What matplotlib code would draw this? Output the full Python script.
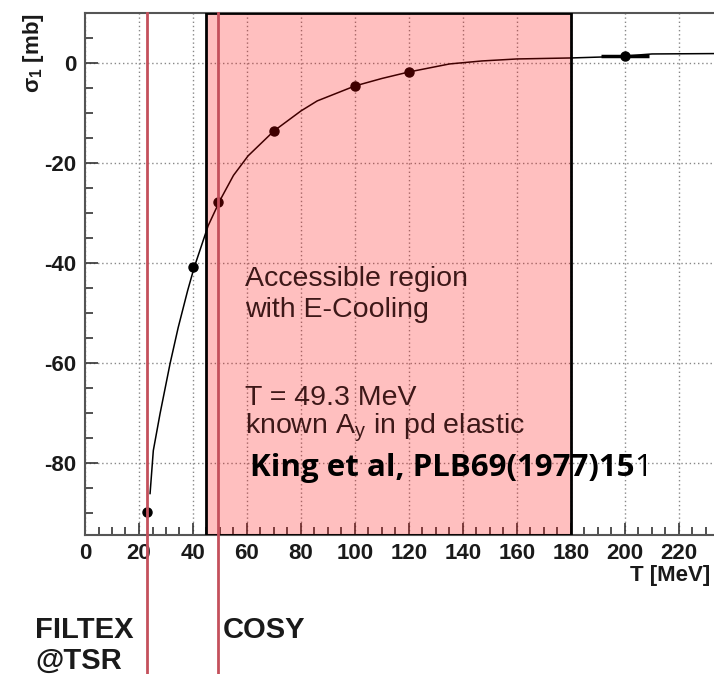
import matplotlib
matplotlib.use("Agg")
import matplotlib.pyplot as plt
from matplotlib.ticker import MultipleLocator
from matplotlib.patches import Rectangle

plt.rcParams["font.family"] = ["Liberation Sans", "DejaVu Sans"]
plt.rcParams["mathtext.default"] = "regular"
plt.rcParams["axes.unicode_minus"] = False

# measured points (T in MeV, sigma_1 in mb)
point_T = [23, 40, 49.3, 70, 100, 120, 200]
point_sigma = [-89.8, -40.8, -27.8, -13.6, -4.6, -1.8, 1.4]
point_Terr = [0, 0, 0, 0, 0, 0, 9]

# theory curve
curve_T = [24.1, 25.3, 27.8, 31.5, 34.5, 38, 40.4, 45.6, 50, 55, 60.4, 70, 80,
           86, 100, 110, 120, 135, 147, 160, 180, 192, 200, 210, 240]
curve_sigma = [-86.2, -77.6, -70.2, -60.2, -53, -45.6, -41, -32.6, -27.5,
               -22.5, -18.6, -13.6, -9.6, -7.6, -4.6, -3.1, -1.8, -0.2, 0.4,
               0.8, 1.0, 1.2, 1.4, 1.8, 1.9]

region_T = [45, 180]          # accessible with e-cooling
marker_T = [23, 49.3]         # FILTEX @TSR, COSY
xticks = [0, 20, 40, 60, 80, 100, 120, 140, 160, 180, 200, 220]
yticks = [0, -20, -40, -60, -80]

fig = plt.figure(figsize=(7.14, 6.74), dpi=100)
ax = fig.add_axes([85 / 714, 139 / 674, 648 / 714, 522 / 674])
ax.set_xlim(0, 240)
ax.set_ylim(-94.5, 10)

ax.set_xticks(xticks)
ax.xaxis.set_minor_locator(MultipleLocator(5))
ax.set_yticks(yticks)
ax.yaxis.set_minor_locator(MultipleLocator(5))
ax.tick_params(which="both", direction="in", top=False, right=False,
               colors="#333333", width=1.2)
ax.tick_params(which="major", length=9, pad=6, labelsize=16, labelcolor="#1a1a1a")
ax.tick_params(which="minor", length=5.5)
for lab in ax.get_xticklabels() + ax.get_yticklabels():
    lab.set_fontweight("bold")

for s in ["left", "bottom", "top"]:
    ax.spines[s].set_color("#555555")
    ax.spines[s].set_linewidth(1.5)
ax.spines["right"].set_visible(False)

ax.grid(True, which="major", linestyle=(0, (1, 2)), color="#888888", linewidth=1.0)
ax.set_axisbelow(True)

ax.plot(curve_T, curve_sigma, color="black", lw=1.1, zorder=3)
ax.errorbar(point_T, point_sigma, xerr=point_Terr, fmt="o", color="black",
            ms=6.5, elinewidth=2.5, capsize=0, zorder=4)

# pink overlay for the e-cooling region
ax.add_patch(Rectangle((region_T[0], -94.5), region_T[1] - region_T[0], 104.5,
                       facecolor="red", alpha=0.25, edgecolor="none", zorder=5))
ax.add_patch(Rectangle((region_T[0], -94.5), region_T[1] - region_T[0], 104.5,
                       facecolor="none", edgecolor="black", lw=2, zorder=6))

for t in marker_T:
    ax.axvline(t, ymin=-0.3, ymax=1, color="#c4505c", lw=2, clip_on=False, zorder=7)

txt_color = "#3d1818"
ax.text(59.3, -44.6, "Accessible region", fontsize=20.5, color=txt_color,
        va="baseline", zorder=6)
ax.text(59.3, -50.8, "with E-Cooling", fontsize=20.5, color=txt_color,
        va="baseline", zorder=6)
ax.text(59.3, -68.4, "T = 49.3 MeV", fontsize=20.5, color=txt_color,
        va="baseline", zorder=6)
ax.text(59.3, -74.2, "known A$_y$ in pd elastic", fontsize=20.5, color=txt_color,
        va="baseline", zorder=6)

king = ax.text(61.1, -82.6, "King et al, PLB69(1977)15", fontsize=22.5,
               fontweight="bold", family=["Open Sans", "DejaVu Sans"],
               color="black", va="baseline", zorder=8)
ax.annotate("1", xy=(1, 0), xycoords=king, va="bottom", ha="left",
            fontsize=22.5, family=["Open Sans", "DejaVu Sans"], color="black",
            zorder=8)

fig.text(710 / 714, 1 - 575 / 674, "T [MeV]", ha="right", va="center",
         fontsize=16, fontweight="bold", color="#1a1a1a")
fig.text(34 / 714, 1 - 13 / 674, "σ$_1$ [mb]", rotation=90, ha="center",
         va="top", fontsize=16, fontweight="bold", color="#1a1a1a")

fig.text(35 / 714, 1 - 630 / 674, "FILTEX", ha="left", va="center",
         fontsize=21, fontweight="bold", color="#1a1a1a")
fig.text(35 / 714, 1 - 661 / 674, "@TSR", ha="left", va="center",
         fontsize=21, fontweight="bold", color="#1a1a1a")
fig.text(223 / 714, 1 - 630 / 674, "COSY", ha="left", va="center",
         fontsize=21, fontweight="bold", color="#1a1a1a")

fig.savefig("out.png", dpi=100)
